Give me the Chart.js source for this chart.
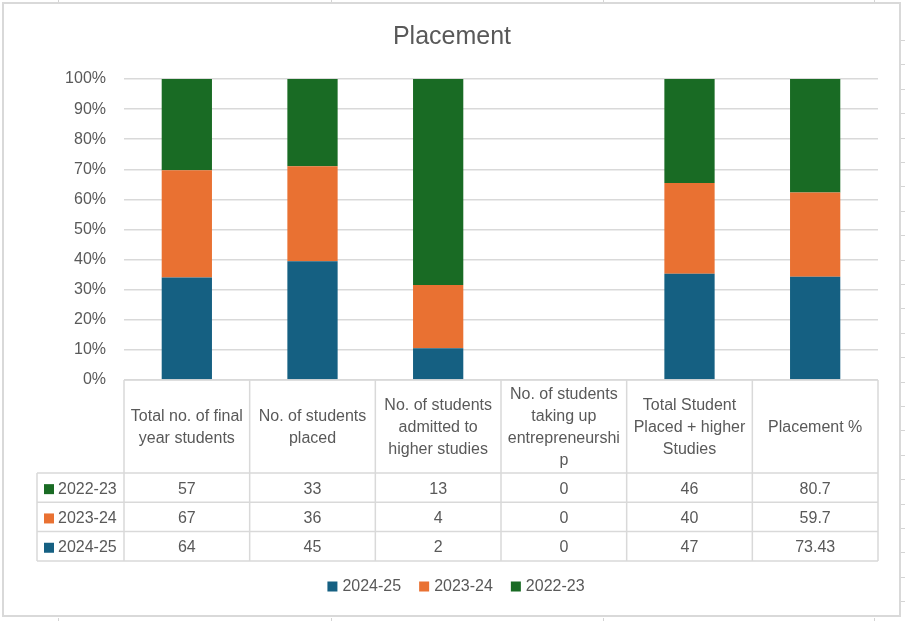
<!DOCTYPE html>
<html>
<head>
<meta charset="utf-8">
<script src="https://cdn.jsdelivr.net/npm/chart.js@4.4.1/dist/chart.umd.min.js"></script>
<style>
  html, body { margin: 0; padding: 0; background: #fff; }
  #wrap { width: 905px; height: 621px; position: relative; }
</style>
</head>
<body>
<div id="wrap"><canvas id="c" width="905" height="621"></canvas></div>
<script>
// ---- data ----
const categories = [
  ["Total no. of final", "year students"],
  ["No. of students", "placed"],
  ["No. of students", "admitted to", "higher studies"],
  ["No. of students", "taking up", "entrepreneurshi", "p"],
  ["Total Student", "Placed + higher", "Studies"],
  ["Placement %"]
];
const seriesNames = ["2024-25", "2023-24", "2022-23"];
const values2425 = [64, 45, 2, 0, 47, 73.43];
const values2324 = [67, 36, 4, 0, 40, 59.7];
const values2223 = [57, 33, 13, 0, 46, 80.7];
const seriesColors = ["#156082", "#E97132", "#196B24"];
const titleText = "Placement";

const allSeries = [values2425, values2324, values2223];
const totals = categories.map((_, i) => allSeries.reduce((s, a) => s + a[i], 0));
const pct = arr => arr.map((v, i) => totals[i] ? v / totals[i] * 100 : 0);

const TXT = "#595959";
const LINE = "#d9d9d9";
const FONT = "16px 'Liberation Sans', Arial, sans-serif";

const decor = {
  id: 'decor',
  beforeDraw(chart) {
    const ctx = chart.ctx;
    ctx.save();
    ctx.fillStyle = "#fff";
    ctx.fillRect(0, 0, 905, 621);
    // spreadsheet grid fragments outside the chart
    ctx.strokeStyle = "#d4d4d4";
    ctx.lineWidth = 1;
    [58, 331, 603, 874].forEach(x => {
      ctx.beginPath(); ctx.moveTo(x + 0.5, 0); ctx.lineTo(x + 0.5, 2); ctx.stroke();
      ctx.beginPath(); ctx.moveTo(x + 0.5, 618); ctx.lineTo(x + 0.5, 621); ctx.stroke();
    });
    for (let y = 40; y < 610; y += 24.4) {
      ctx.beginPath(); ctx.moveTo(901, Math.round(y) + 0.5); ctx.lineTo(905, Math.round(y) + 0.5); ctx.stroke();
    }
    // chart border
    ctx.strokeStyle = LINE;
    ctx.lineWidth = 2;
    ctx.strokeRect(3, 3, 897, 613);
    ctx.restore();
  },
  afterDraw(chart) {
    const ctx = chart.ctx;
    const xs = chart.scales.x;
    const area = chart.chartArea;
    const n = categories.length;
    const half = (xs.getPixelForValue(1) - xs.getPixelForValue(0)) / 2;
    const bounds = [];
    for (let i = 0; i < n; i++) bounds.push(xs.getPixelForValue(i) - half);
    bounds.push(xs.getPixelForValue(n - 1) + half);

    const top = area.bottom;
    const headBottom = 473;
    const rowH = 29.3;
    const tableBottom = headBottom + 3 * rowH;
    const leftX = 37;

    ctx.save();
    ctx.strokeStyle = LINE;
    ctx.lineWidth = 1.5;
    ctx.beginPath();
    ctx.moveTo(bounds[0], top); ctx.lineTo(bounds[n], top);
    for (let r = 0; r <= 3; r++) {
      const y = headBottom + r * rowH;
      ctx.moveTo(leftX, y); ctx.lineTo(bounds[n], y);
    }
    bounds.forEach(x => { ctx.moveTo(x, top); ctx.lineTo(x, tableBottom); });
    ctx.moveTo(leftX, headBottom); ctx.lineTo(leftX, tableBottom);
    ctx.stroke();

    // header text
    ctx.fillStyle = TXT;
    ctx.font = FONT;
    ctx.textAlign = "center";
    ctx.textBaseline = "middle";
    const lh = 22;
    categories.forEach((lines, i) => {
      const cx = xs.getPixelForValue(i);
      const cy = (top + headBottom) / 2 + 1.5;
      lines.forEach((t, k) => {
        ctx.fillText(t, cx, cy + (k - (lines.length - 1) / 2) * lh);
      });
    });

    // rows: 2022-23, 2023-24, 2024-25
    const rowOrder = [2, 1, 0];
    rowOrder.forEach((si, r) => {
      const cy = headBottom + r * rowH + rowH / 2 + 1.5;
      ctx.fillStyle = seriesColors[si];
      ctx.fillRect(44, cy - 5, 10, 10);
      ctx.fillStyle = TXT;
      ctx.textAlign = "left";
      ctx.fillText(seriesNames[si], 58, cy);
      ctx.textAlign = "center";
      allSeries[si].forEach((v, i) => {
        ctx.fillText(String(v), xs.getPixelForValue(i), cy);
      });
    });

    // legend
    ctx.textAlign = "left";
    const legendY = 586.5;
    const items = seriesNames.map((s, i) => ({ s, c: seriesColors[i], w: ctx.measureText(s).width }));
    const gap = 18, box = 10, boxGap = 5;
    const total = items.reduce((a, it) => a + box + boxGap + it.w, 0) + gap * (items.length - 1);
    let x = 452 - total / 2 + 4;
    items.forEach(it => {
      ctx.fillStyle = it.c;
      ctx.fillRect(x, legendY - 5, box, box);
      ctx.fillStyle = TXT;
      ctx.fillText(it.s, x + box + boxGap, legendY);
      x += box + boxGap + it.w + gap;
    });

    // title
    ctx.textAlign = "center";
    ctx.font = "25px 'Liberation Sans', Arial, sans-serif";
    ctx.fillText(titleText, 452, 37.5);
    ctx.restore();
  }
};

new Chart(document.getElementById('c'), {
  type: 'bar',
  data: {
    labels: categories.map(c => c.join(' ')),
    datasets: allSeries.map((arr, i) => ({
      label: seriesNames[i],
      data: pct(arr),
      backgroundColor: seriesColors[i],
      borderWidth: 0,
      barPercentage: 0.4,
      categoryPercentage: 1.0
    }))
  },
  options: {
    responsive: false,
    animation: false,
    devicePixelRatio: 1,
    layout: { padding: { left: 0, top: 79, right: 27, bottom: 241 } },
    plugins: { legend: { display: false }, title: { display: false }, tooltip: { enabled: false } },
    scales: {
      x: { stacked: true, display: false },
      y: {
        stacked: true,
        min: 0, max: 100,
        afterFit(s) { s.width = 124; },
        border: { display: false },
        grid: { color: LINE, lineWidth: 1.5, drawTicks: false },
        ticks: {
          stepSize: 10,
          padding: 18,
          color: TXT,
          font: { family: "'Liberation Sans', Arial, sans-serif", size: 16 },
          callback: v => v + '%'
        }
      }
    }
  },
  plugins: [decor]
});
</script>
</body>
</html>
